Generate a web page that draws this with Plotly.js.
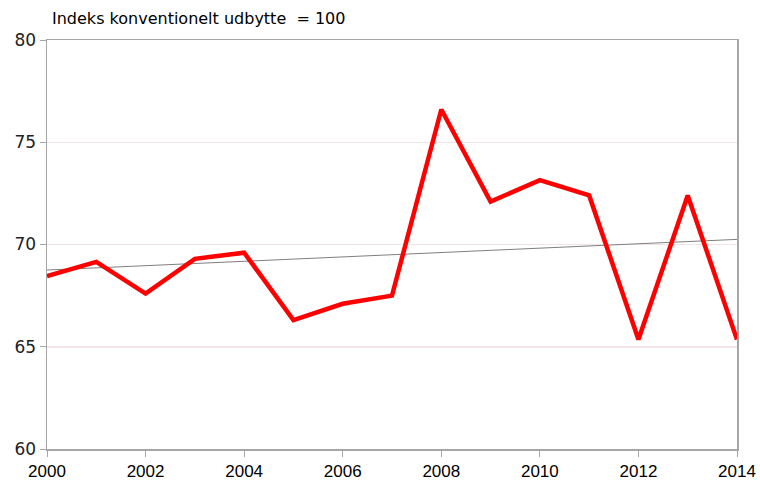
<!DOCTYPE html>
<html>
<head>
<meta charset="utf-8">
<script src="https://cdn.plot.ly/plotly-3.0.1.min.js"></script>
<style>
  body { margin: 0; background: #fff; }
  #plot { width: 760px; height: 480px; }
</style>
</head>
<body>
<div id="plot"></div>
<script>
// index values
const years = [2000, 2001, 2002, 2003, 2004, 2005, 2006, 2007, 2008, 2009, 2010, 2011, 2012, 2013, 2014];
const index = [68.45, 69.15, 67.6, 69.3, 69.6, 66.3, 67.1, 67.5, 76.6, 72.1, 73.15, 72.4, 65.35, 72.4, 65.35];
// linear trend, end points
const trendYears = [2000, 2014];
const trendValues = [68.75, 70.25];
const yTicks = [60, 65, 70, 75, 80];
const xTicks = [2000, 2002, 2004, 2006, 2008, 2010, 2012, 2014];

const trend = {
  x: trendYears,
  y: trendValues,
  mode: 'lines',
  line: {color: '#7f7f7f', width: 1},
  hoverinfo: 'skip'
};

const series = {
  x: years,
  y: index,
  mode: 'lines',
  line: {color: '#ff0000', width: 4.5},
};

const layout = {
  width: 760,
  height: 480,
  showlegend: false,
  margin: {l: 47, r: 23, t: 40, b: 31},
  paper_bgcolor: '#fff',
  plot_bgcolor: '#fff',
  xaxis: {
    range: [2000, 2014],
    tickvals: xTicks,
    ticks: 'outside',
    ticklen: 6,
    tickcolor: '#a6a6a6',
    showgrid: false,
    zeroline: false,
    showline: true,
    linecolor: '#a6a6a6',
    linewidth: 1.5,
    mirror: true,
    tickfont: {family: 'Liberation Sans Narrow, Arial Narrow, sans-serif', size: 17, color: '#000'}
  },
  yaxis: {
    range: [60, 80],
    tickvals: yTicks,
    ticks: 'outside',
    ticklen: 6,
    tickcolor: '#a6a6a6',
    showgrid: true,
    gridcolor: '#f2e4e6',
    gridwidth: 1.5,
    zeroline: false,
    showline: true,
    linecolor: '#a6a6a6',
    linewidth: 1.5,
    mirror: true,
    tickfont: {family: 'DejaVu Sans, Verdana, sans-serif', size: 17, color: '#222'}
  },
  annotations: [{
    text: 'Indeks konventionelt udbytte  = 100',
    xref: 'paper', yref: 'paper',
    x: 0.004, y: 1,
    xanchor: 'left', yanchor: 'bottom',
    yshift: 10,
    showarrow: false,
    font: {family: 'DejaVu Sans, Verdana, sans-serif', size: 16, color: '#000'}
  }]
};

Plotly.newPlot('plot', [trend, series], layout, {staticPlot: true});
</script>
</body>
</html>
